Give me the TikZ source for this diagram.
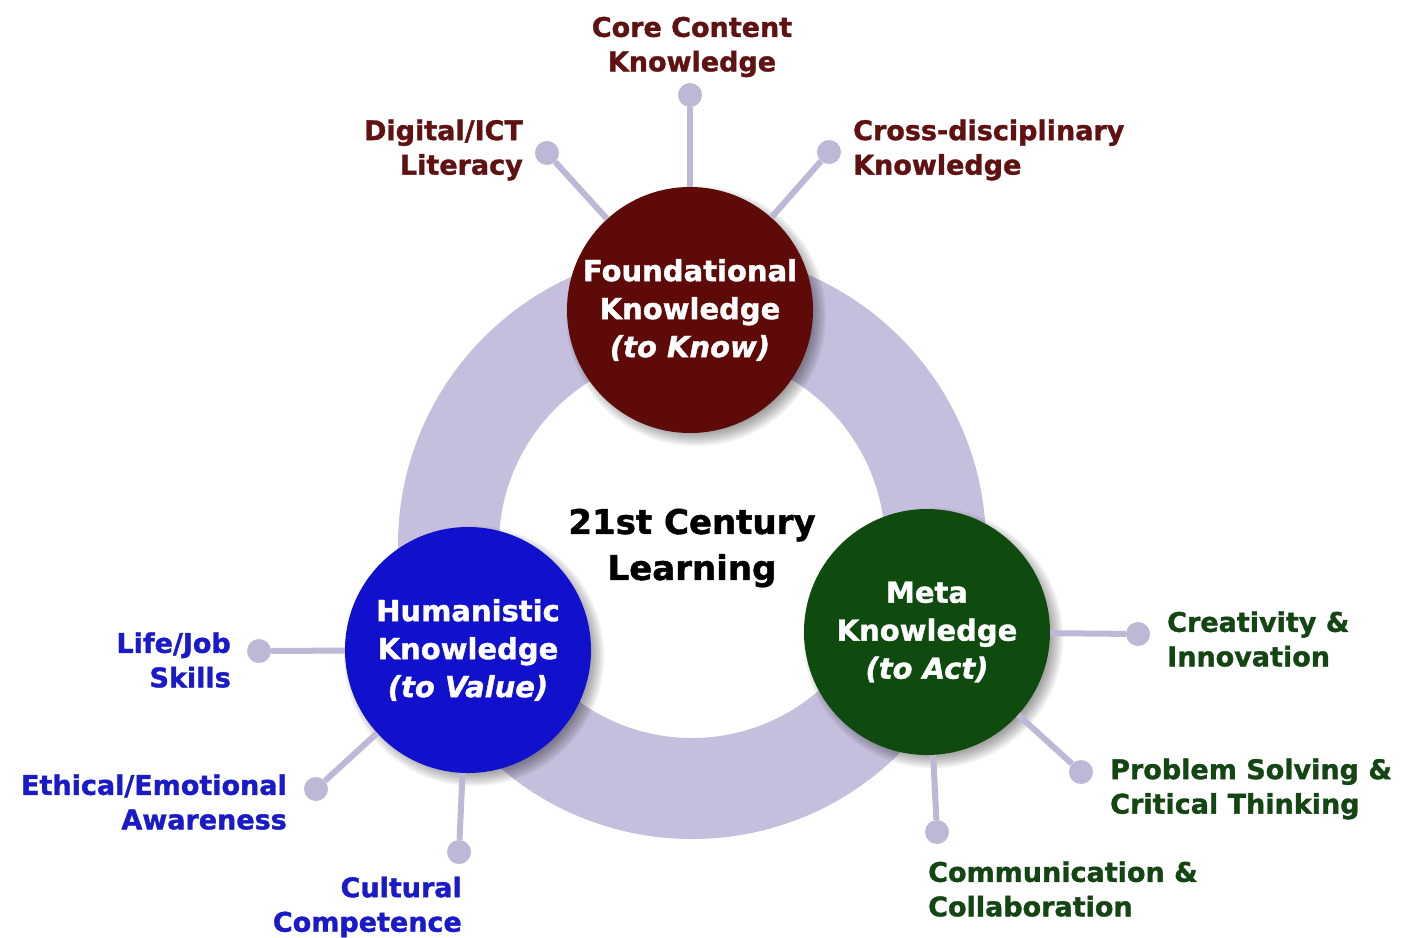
\documentclass[tikz,border=0pt]{standalone}
\usepackage{fontspec}
\setmainfont{DejaVu Sans}[BoldFeatures={FakeBold=1.3},BoldItalicFeatures={FakeBold=1.3}]
\definecolor{maroon}{RGB}{94,10,8}
\definecolor{maroontxt}{RGB}{96,18,18}
\definecolor{bluec}{RGB}{16,16,205}
\definecolor{bluetxt}{RGB}{26,26,200}
\definecolor{greenc}{RGB}{15,75,15}
\definecolor{greentxt}{RGB}{20,70,20}
\definecolor{ringc}{RGB}{197,191,221}
\definecolor{spokec}{RGB}{190,184,214}
\tikzset{
  bigc/.style={circle, minimum size=246pt, inner sep=0pt, text=white, align=center, font=\bfseries\fontsize{29}{38}\selectfont},
  dot/.style={circle, fill=spokec, minimum size=24pt, inner sep=0pt},
  spoke/.style={draw=spokec, line width=6pt},
  lbl/.style={inner sep=0pt, font=\bfseries\fontsize{27}{34.5}\selectfont},
  red/.style={lbl, text=maroontxt},
  blu/.style={lbl, text=bluetxt},
  grn/.style={lbl, text=greentxt}
}
\begin{document}
\begin{tikzpicture}[x=1pt,y=-1pt]
\useasboundingbox (0,0) rectangle (1402,937);
\fill[white] (0,0) rectangle (1402,937);
% ring
\fill[ringc, even odd rule] (692,545) circle (294) (692,545) circle (193);
% soft shadows
\foreach \cx/\cy in {690/310,468/650,927/632}{
  \foreach \r in {116,118,120,122,124,126,128,130}{
    \fill[black, opacity=0.055] (\cx+6,\cy+6) circle (\r);
  }
}
% main circles
\node[bigc, fill=maroon] (f) at (690,310) {Foundational\\Knowledge\\\textit{(to Know)}};
\node[bigc, fill=bluec] (h) at (468,650) {Humanistic\\Knowledge\\\textit{(to Value)}};
\node[bigc, fill=greenc] (m) at (927,632) {Meta\\Knowledge\\\textit{(to Act)}};
% center text
\node[inner sep=0pt, align=center, font=\bfseries\fontsize{34}{46}\selectfont] (c) at (692,548) {21st Century\\Learning};
% dots
\node[dot] (d1) at (690,95) {};
\node[dot] (d2) at (547,153) {};
\node[dot] (d3) at (829,152) {};
\node[dot] (d4) at (259,651) {};
\node[dot] (d5) at (316,789) {};
\node[dot] (d6) at (459,852) {};
\node[dot] (d7) at (1138,634) {};
\node[dot] (d8) at (1081,772) {};
\node[dot] (d9) at (937,832) {};
% spokes
\foreach \c/\d in {f/d1,f/d2,f/d3,h/d4,h/d5,h/d6,m/d7,m/d8,m/d9}{
  \draw[spoke] (\c) -- (\d);
}
% labels
\node[red, align=center] (t1) at (692,47) {Core Content\\Knowledge};
\node[red, align=right, anchor=east] (t2) at (523,150) {Digital/ICT\\Literacy};
\node[red, align=left, anchor=west] (t3) at (853,150) {Cross-disciplinary\\Knowledge};
\node[blu, align=right, anchor=east] (t4) at (231,660) {Life/Job\\Skills};
\node[blu, align=right, anchor=east] (t5) at (287,802) {Ethical/Emotional\\Awareness};
\node[blu, align=right, anchor=east] (t6) at (462,907) {Cultural\\Competence};
\node[grn, align=left, anchor=west] (t7) at (1167,639) {Creativity \&\\Innovation};
\node[grn, align=left, anchor=west] (t8) at (1110,789) {Problem Solving \&\\Critical Thinking};
\node[grn, align=left, anchor=west] (t9) at (928,889) {Communication \&\\Collaboration};
\end{tikzpicture}
\end{document}
